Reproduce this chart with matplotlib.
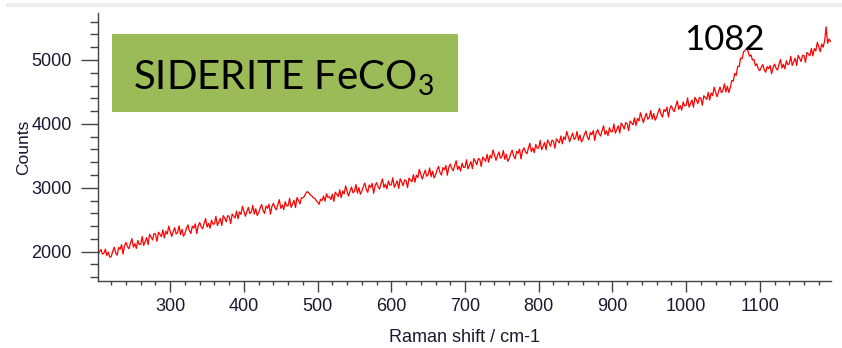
import numpy as np
import matplotlib.pyplot as plt
from matplotlib.patches import Rectangle
from matplotlib.ticker import MultipleLocator

# Raman spectrum of siderite (2 cm-1 sampling, 200-1196)
raman_shift = np.arange(200, 1197, 2)
counts = [
    2009, 1950, 1996, 2035, 1962, 1973, 2040, 1939, 1992, 1912,  # 200
    1925, 2007, 2069, 1981, 1943, 2065, 2037, 2109, 1961, 2093,  # 220
    2145, 2080, 2045, 2130, 2205, 2070, 2125, 2050, 2175, 2110,  # 240
    2115, 2236, 2097, 2158, 2219, 2110, 2271, 2232, 2183, 2284,  # 260
    2275, 2160, 2305, 2270, 2235, 2340, 2215, 2320, 2275, 2400,  # 280
    2315, 2238, 2311, 2374, 2277, 2300, 2403, 2266, 2349, 2242,  # 300
    2285, 2362, 2419, 2326, 2283, 2400, 2367, 2434, 2281, 2408,  # 320
    2455, 2391, 2357, 2443, 2519, 2385, 2441, 2367, 2493, 2429,  # 340
    2435, 2552, 2408, 2465, 2521, 2408, 2564, 2521, 2467, 2564,  # 360
    2550, 2439, 2588, 2557, 2526, 2635, 2514, 2623, 2582, 2711,  # 380
    2630, 2554, 2628, 2692, 2596, 2620, 2724, 2588, 2672, 2566,  # 400
    2610, 2685, 2739, 2644, 2598, 2713, 2677, 2742, 2586, 2711,  # 420
    2755, 2690, 2654, 2739, 2813, 2678, 2732, 2657, 2781, 2716,  # 440
    2720, 2836, 2692, 2748, 2804, 2690, 2846, 2802, 2748, 2844,  # 460
    2840, 2865, 2915, 2940, 2920, 2890, 2875, 2845, 2835, 2800,  # 480
    2775, 2740, 2820, 2800, 2870, 2790, 2905, 2850, 2860, 2815,  # 500
    2900, 2786, 2931, 2897, 2862, 2968, 2843, 2949, 2904, 3030,  # 520
    2945, 2871, 2947, 3013, 2919, 2945, 3051, 2917, 3003, 2899,  # 540
    2945, 3019, 3072, 2976, 2929, 3043, 3006, 3070, 2913, 3037,  # 560
    3080, 3015, 2979, 3064, 3138, 3003, 3057, 2982, 3106, 3041,  # 580
    3045, 3156, 3007, 3058, 3109, 2990, 3141, 3092, 3033, 3124,  # 600
    3110, 3001, 3152, 3123, 3094, 3205, 3086, 3197, 3158, 3289,  # 620
    3210, 3135, 3210, 3275, 3180, 3205, 3310, 3175, 3260, 3155,  # 640
    3200, 3277, 3334, 3241, 3198, 3315, 3282, 3349, 3196, 3323,  # 660
    3370, 3303, 3266, 3349, 3422, 3285, 3338, 3261, 3384, 3317,  # 680
    3320, 3438, 3295, 3353, 3410, 3298, 3455, 3413, 3360, 3458,  # 700
    3445, 3333, 3480, 3448, 3415, 3523, 3400, 3508, 3465, 3593,  # 720
    3510, 3430, 3501, 3562, 3462, 3483, 3584, 3444, 3524, 3414,  # 740
    3455, 3532, 3589, 3496, 3453, 3570, 3537, 3604, 3451, 3578,  # 760
    3625, 3563, 3531, 3619, 3697, 3565, 3623, 3551, 3679, 3617,  # 780
    3625, 3741, 3596, 3652, 3707, 3593, 3748, 3704, 3649, 3745,  # 800
    3730, 3618, 3766, 3734, 3702, 3810, 3688, 3796, 3754, 3882,  # 820
    3800, 3722, 3794, 3856, 3758, 3780, 3882, 3744, 3826, 3718,  # 840
    3760, 3835, 3890, 3795, 3750, 3865, 3830, 3895, 3740, 3865,  # 860
    3910, 3845, 3810, 3895, 3970, 3835, 3890, 3815, 3940, 3875,  # 880
    3880, 3998, 3855, 3913, 3970, 3858, 4015, 3973, 3920, 4018,  # 900
    4005, 3895, 4045, 4015, 3985, 4095, 3975, 4085, 4045, 4175,  # 920
    4095, 4022, 4099, 4166, 4073, 4100, 4207, 4074, 4161, 4058,  # 940
    4105, 4183, 4241, 4149, 4107, 4225, 4193, 4261, 4109, 4237,  # 960
    4285, 4224, 4192, 4281, 4359, 4228, 4286, 4215, 4343, 4282,  # 980
    4290, 4406, 4262, 4318, 4374, 4260, 4416, 4372, 4318, 4414,  # 1000
    4400, 4291, 4441, 4412, 4382, 4493, 4373, 4484, 4444, 4575,  # 1020
    4495, 4426, 4506, 4577, 4487, 4518, 4628, 4499, 4589, 4490,  # 1040
    4570, 4680, 4670, 4790, 4760, 4900, 4900, 5030, 5020, 5130,  # 1060
    5150, 5185, 5140, 5060, 5080, 5000, 5010, 4910, 4940, 4860,  # 1080
    4833, 4889, 4929, 4849, 4809, 4897, 4865, 4913, 4785, 4881,  # 1100
    4935, 4873, 4841, 4929, 5007, 4875, 4933, 4861, 4989, 4927,  # 1120
    4940, 5057, 4914, 4971, 5028, 4915, 5072, 5029, 4976, 5073,  # 1140
    5070, 4964, 5118, 5092, 5066, 5180, 5064, 5178, 5142, 5276,  # 1160
    5210, 5130, 5250, 5200, 5300, 5520, 5260, 5330, 5290,        # 1180
]
x_ticks = [300, 400, 500, 600, 700, 800, 900, 1000, 1100]
y_ticks = [2000, 3000, 4000, 5000]
title_text = "SIDERITE FeCO$_{\\mathregular{3}}$"
peak_label = "1082"

plt.rcParams["font.family"] = ["Liberation Sans", "DejaVu Sans"]

fig = plt.figure(figsize=(8.42, 3.48), dpi=100)
# thin grey strip along the top edge of the slide
fig.add_artist(Rectangle((0.007, 0.98), 0.993, 0.01, transform=fig.transFigure,
                         facecolor="#eeeeee", edgecolor="none"))

ax = fig.add_axes([0.1164, 0.1925, 0.870, 0.770])
ax.plot(raman_shift, counts, color="red", lw=0.9)

ax.set_xlim(202, 1196)
ax.set_ylim(1540, 5735)
ax.set_xticks(x_ticks)
ax.set_yticks(y_ticks)
ax.xaxis.set_minor_locator(MultipleLocator(20))
ax.yaxis.set_minor_locator(MultipleLocator(200))

for side in ["top", "right"]:
    ax.spines[side].set_visible(False)
for side in ["left", "bottom"]:
    ax.spines[side].set_color("#444444")
    ax.spines[side].set_linewidth(1.0)

ax.tick_params(axis="x", which="major", length=8, width=1, color="#444444",
               labelsize=13, labelcolor="#1a1a2e", pad=4)
ax.tick_params(axis="x", which="minor", length=3, width=1, color="#444444")
ax.tick_params(axis="y", which="major", length=12, width=1, color="#444444",
               labelsize=13, labelcolor="#1a1a2e", pad=7)
ax.tick_params(axis="y", which="minor", length=6, width=1, color="#444444")

ax.set_xlabel("Raman shift / cm-1", fontsize=13, color="#1a1a2e", labelpad=10)
ax.set_ylabel("Counts", fontsize=12.5, color="#1a1a2e", labelpad=0)

# green title box
fig.add_artist(Rectangle((0.133, 0.678), 0.411, 0.224, transform=fig.transFigure,
                         facecolor="#9bbb59", edgecolor="none"))
fig.text(0.158, 0.742, title_text, fontsize=29, color="black",
         family=["Lato", "DejaVu Sans"], ha="left", va="baseline")

ax.text(1052, 5160, peak_label, fontsize=25, color="black",
        family=["Lato", "DejaVu Sans"], ha="center", va="baseline")

fig.savefig("out.png", dpi=100)
